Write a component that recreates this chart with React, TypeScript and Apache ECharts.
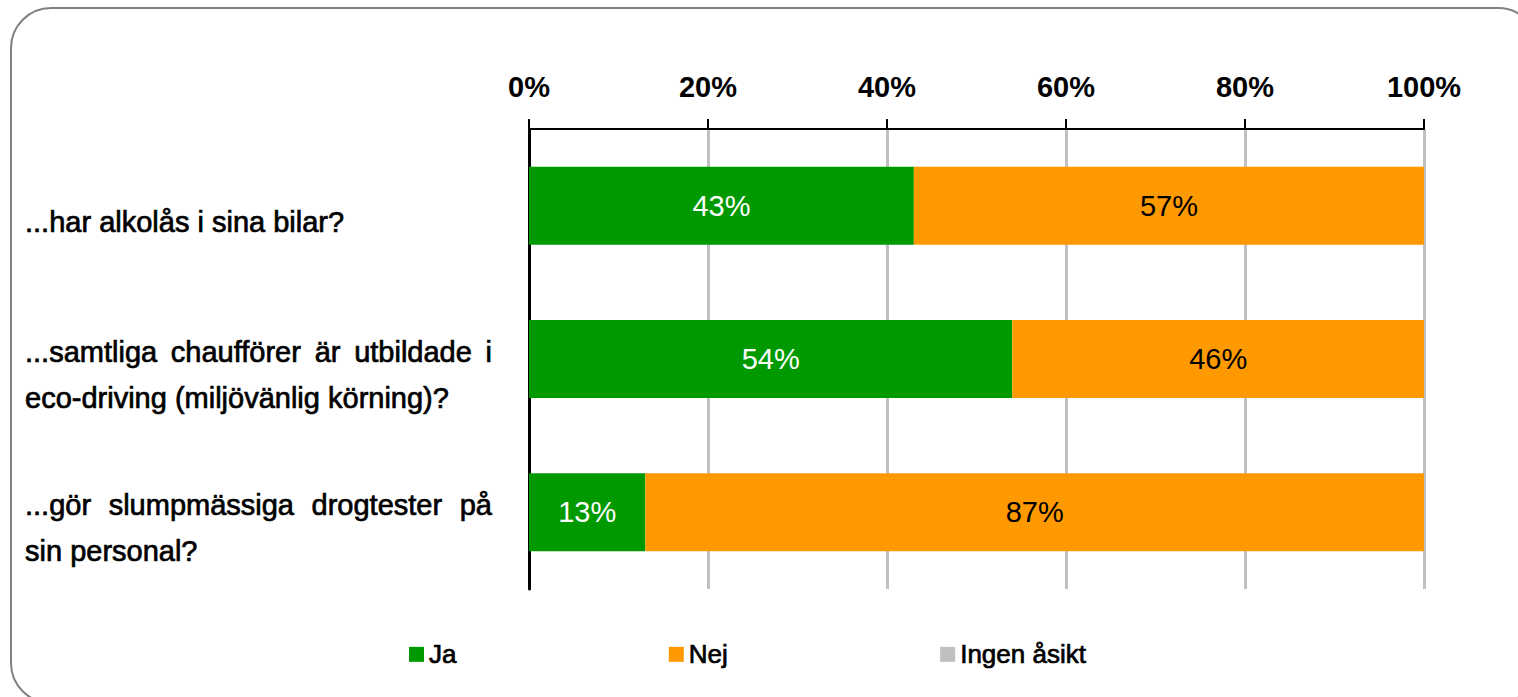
import React, { useEffect, useRef } from "react";
import * as echarts from "echarts";

// Survey questions, one inner array per paragraph (one entry per printed line)
const QUESTION_LINES: string[][] = [
  ["...har alkolås i sina bilar?"],
  ["...samtliga chaufförer är utbildade i", "eco-driving (miljövänlig körning)?"],
  ["...gör slumpmässiga drogtester på", "sin personal?"],
];
const CATEGORIES = QUESTION_LINES.map((lines) => lines.join(" "));

const SERIES_NAMES = ["Ja", "Nej", "Ingen åsikt"];
const JA = [43, 54, 13];
const NEJ = [57, 46, 87];
const INGEN_ASIKT = [0, 0, 0];

const COLORS = ["#009900", "#FF9900", "#C0C0C0"];

const FONT = '"Liberation Sans", Arial, sans-serif';
const LABEL_SIZE = 29;
const LABEL_LINE_HEIGHT = 46;
const JUSTIFY_WIDTH = 467;
// slight outline to give the question and legend texts a heavier weight
const HEAVY = { textBorderColor: "#000", textBorderWidth: 0.7 };

// Build rich-text labels whose lines (except the last of a paragraph) are justified
function buildLabels() {
  const canvas = document.createElement("canvas");
  const ctx = canvas.getContext("2d")!;
  ctx.font = `${LABEL_SIZE}px ${FONT}`;
  const rich: Record<string, any> = {
    t: { fontSize: LABEL_SIZE, fontFamily: FONT, color: "#000", lineHeight: LABEL_LINE_HEIGHT, ...HEAVY },
  };
  let gapId = 0;
  const labels = QUESTION_LINES.map((lines) =>
    lines
      .map((line, i) => {
        const words = line.split(" ");
        if (i === lines.length - 1 || words.length < 2) return `{t|${line}}`;
        const wordsWidth = words.reduce((s, w) => s + ctx.measureText(w).width, 0);
        const gap = (JUSTIFY_WIDTH - wordsWidth) / (words.length - 1);
        const key = `g${gapId++}`;
        rich[key] = { width: gap, fontSize: LABEL_SIZE, fontFamily: FONT, lineHeight: LABEL_LINE_HEIGHT };
        return words.map((w) => `{t|${w}}`).join(`{${key}| }`);
      })
      .join("\n")
  );
  return { labels, rich };
}

export default function App() {
  const ref = useRef<HTMLDivElement>(null);

  useEffect(() => {
    if (!ref.current) return;
    const chart = echarts.init(ref.current, undefined, { renderer: "svg" });
    const { labels, rich } = buildLabels();

    const valueLabel = (color: string) => ({
      show: true,
      position: "inside" as const,
      color,
      fontFamily: FONT,
      fontSize: 29,
      textBorderWidth: 0,
      formatter: (p: any) => (p.value > 0 ? `${p.value}%` : ""),
    });

    const seriesData = [JA, NEJ, INGEN_ASIKT];
    const labelColors = ["#ffffff", "#000000", "#000000"];

    chart.setOption({
      animation: false,
      backgroundColor: "#ffffff",
      textStyle: { fontFamily: FONT },
      graphic: [
        {
          type: "rect",
          silent: true,
          z: -1,
          shape: { x: 11, y: 8, width: 1527, height: 695, r: 40 },
          style: { fill: "none", stroke: "#808080", lineWidth: 2 },
        },
      ],
      legend: {
        data: SERIES_NAMES,
        left: 404,
        top: 636,
        itemWidth: 15,
        itemHeight: 15,
        itemGap: 212,
        icon: "rect",
        selectedMode: false,
        textStyle: { fontFamily: FONT, fontSize: 26, color: "#000", ...HEAVY },
      },
      grid: {
        left: 529,
        right: 94,
        top: 129,
        bottom: 108,
        containLabel: false,
        outerBoundsMode: "none",
      },
      xAxis: {
        type: "value",
        position: "top",
        min: 0,
        max: 100,
        interval: 20,
        axisLine: { show: true, lineStyle: { color: "#000", width: 2 } },
        axisTick: { show: true, inside: false, length: 10, lineStyle: { color: "#000", width: 2 } },
        axisLabel: {
          formatter: "{value}%",
          fontFamily: FONT,
          fontSize: 29,
          fontWeight: "bold",
          color: "#000",
          margin: 28,
        },
        splitLine: { show: true, lineStyle: { color: "#C0C0C0", width: 3 } },
      },
      yAxis: {
        type: "category",
        inverse: true,
        data: CATEGORIES,
        axisLine: { show: true, lineStyle: { color: "#000", width: 3 } },
        axisTick: { show: false },
        splitLine: { show: false },
        axisLabel: {
          align: "left",
          verticalAlign: "middle",
          margin: 504,
          padding: [32, 0, 0, 0],
          formatter: (_v: string, i: number) => labels[i],
          rich,
        },
      },
      series: SERIES_NAMES.map((name, k) => ({
        name,
        type: "bar",
        stack: "total",
        barWidth: 78,
        data: seriesData[k],
        itemStyle: { color: COLORS[k] },
        label: valueLabel(labelColors[k]),
        emphasis: { disabled: true },
      })),
    });

    return () => chart.dispose();
  }, []);

  return (
    <div
      ref={ref}
      style={{ position: "fixed", left: 0, top: 0, width: 1518, height: 697 }}
    />
  );
}
